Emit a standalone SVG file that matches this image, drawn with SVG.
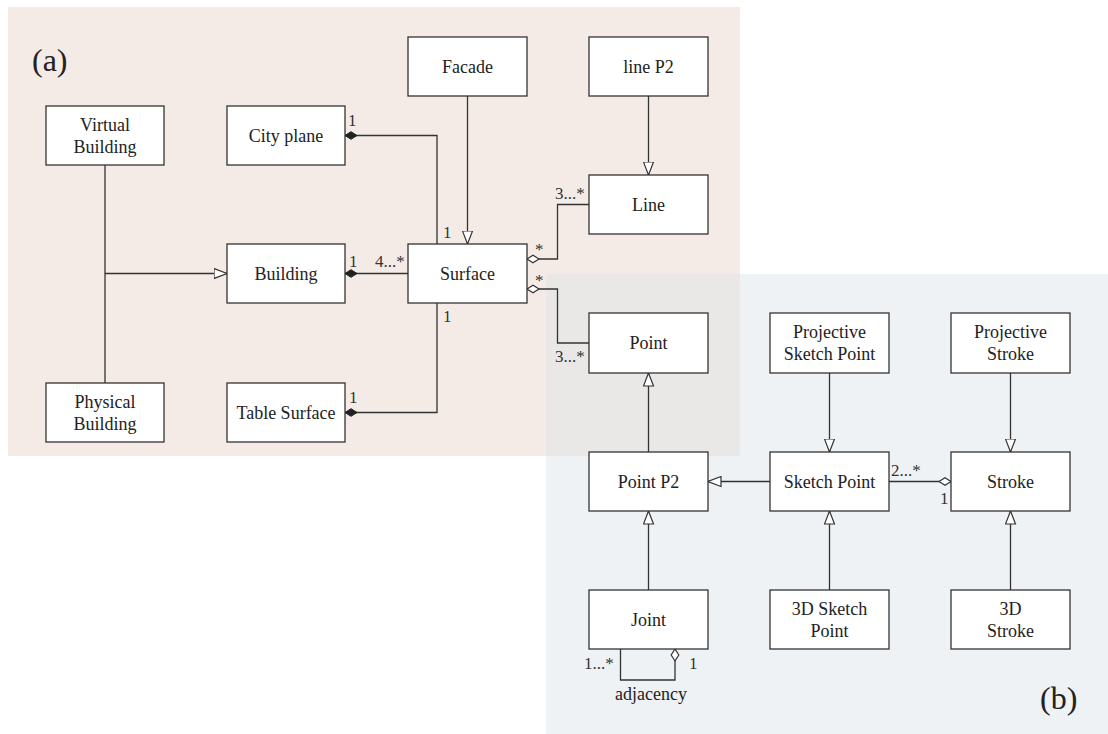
<svg xmlns="http://www.w3.org/2000/svg" width="1108" height="734" viewBox="0 0 1108 734">
<style>
.box{fill:#fff;stroke:#333;stroke-width:1.3}
.t{font-family:"Liberation Serif",serif;font-size:18px;fill:#222;text-anchor:middle}
.m{font-family:"Liberation Serif",serif;font-size:17px;fill:#333}
.big{font-family:"Liberation Serif",serif;font-size:32px;fill:#222}
.c{fill:none;stroke:#333;stroke-width:1.3}
.gen{marker-end:url(#gen)}
.comp{marker-start:url(#comp)}
.agg{marker-start:url(#agg)}
</style>
<defs>
<marker id="gen" viewBox="0 0 14 12" refX="13.5" refY="6" markerWidth="14" markerHeight="12" markerUnits="userSpaceOnUse" orient="auto">
<path d="M0.5,1 L13.5,6 L0.5,11 Z" fill="#fff" stroke="#333" stroke-width="1.2"/>
</marker>
<marker id="comp" viewBox="0 0 14 10" refX="0.5" refY="5" markerWidth="14" markerHeight="10" markerUnits="userSpaceOnUse" orient="auto">
<path d="M0.5,5 L6.5,1.2 L12.5,5 L6.5,8.8 Z" fill="#222" stroke="#222" stroke-width="1"/>
</marker>
<marker id="agg" viewBox="0 0 14 10" refX="0.5" refY="5" markerWidth="14" markerHeight="10" markerUnits="userSpaceOnUse" orient="auto">
<path d="M0.5,5 L6.5,1.2 L12.5,5 L6.5,8.8 Z" fill="#fff" stroke="#333" stroke-width="1.2"/>
</marker>
</defs>

<g id="backgrounds">
<rect x="8" y="7" width="732" height="449" fill="#f5ebe6"/>
<rect x="546" y="274" width="562" height="460" fill="#eef2f5"/>
<rect x="546" y="274" width="194" height="182" fill="#e9e8e6"/>
</g>

<text class="big" x="32" y="71">(a)</text>
<text class="big" x="1040" y="709">(b)</text>

<g id="connectors">
<path class="c" d="M105,165 V383"/>
<path class="c gen" d="M105,273.5 H227"/>
<path class="c comp" d="M345,135.5 H437 V244"/>
<path class="c comp" d="M345,273.5 H408"/>
<path class="c comp" d="M345,412.5 H437 V303"/>
<path class="c gen" d="M467.5,96 V244"/>
<path class="c gen" d="M648.5,96 V175"/>
<path class="c agg" d="M527,259 H557.5 V204.5 H589"/>
<path class="c agg" d="M527,289 H557.5 V343 H589"/>
<path class="c gen" d="M648.5,452 V373"/>
<path class="c gen" d="M770,481.5 H708"/>
<path class="c gen" d="M829.5,373 V452"/>
<path class="c gen" d="M1010.5,373 V452"/>
<path class="c agg" d="M951,481.5 H889"/>
<path class="c gen" d="M648.5,590 V511"/>
<path class="c gen" d="M829.5,590 V511"/>
<path class="c gen" d="M1010.5,590 V511"/>
<path class="c agg" d="M675,649 V680 H620.5 V649"/>
</g>

<g id="labels">
<text class="m" x="348" y="126">1</text>
<text class="m" x="443" y="238">1</text>
<text class="m" x="349" y="267">1</text>
<text class="m" x="375" y="267">4...*</text>
<text class="m" x="349" y="403">1</text>
<text class="m" x="443" y="322">1</text>
<text class="m" x="535" y="255">*</text>
<text class="m" x="535" y="286">*</text>
<text class="m" x="555" y="199">3...*</text>
<text class="m" x="555" y="362">3...*</text>
<text class="m" x="891" y="476">2...*</text>
<text class="m" x="940" y="504">1</text>
<text class="m" x="584" y="669">1...*</text>
<text class="m" x="689" y="669">1</text>
<text class="t" x="651" y="700">adjacency</text>
</g>

<g id="virtual-building"><rect class="box" x="46" y="106" width="118" height="59"/><text class="t" x="105" y="130.5">Virtual</text><text class="t" x="105" y="152.5">Building</text></g>
<g id="physical-building"><rect class="box" x="46" y="383" width="118" height="59"/><text class="t" x="105" y="407.5">Physical</text><text class="t" x="105" y="429.5">Building</text></g>
<g id="city-plane"><rect class="box" x="227" y="106" width="118" height="59"/><text class="t" x="286" y="141.5">City plane</text></g>
<g id="building"><rect class="box" x="227" y="244" width="118" height="59"/><text class="t" x="286" y="279.5">Building</text></g>
<g id="table-surface"><rect class="box" x="227" y="383" width="118" height="59"/><text class="t" x="286" y="418.5">Table Surface</text></g>
<g id="facade"><rect class="box" x="408" y="37" width="119" height="59"/><text class="t" x="467.5" y="72.5">Facade</text></g>
<g id="surface"><rect class="box" x="408" y="244" width="119" height="59"/><text class="t" x="467.5" y="279.5">Surface</text></g>
<g id="line-p2"><rect class="box" x="589" y="37" width="119" height="59"/><text class="t" x="648.5" y="72.5">line P2</text></g>
<g id="line"><rect class="box" x="589" y="175" width="119" height="59"/><text class="t" x="648.5" y="210.5">Line</text></g>
<g id="point"><rect class="box" x="589" y="313" width="119" height="60"/><text class="t" x="648.5" y="349">Point</text></g>
<g id="point-p2"><rect class="box" x="589" y="452" width="119" height="59"/><text class="t" x="648.5" y="487.5">Point P2</text></g>
<g id="joint"><rect class="box" x="589" y="590" width="119" height="59"/><text class="t" x="648.5" y="625.5">Joint</text></g>
<g id="projective-sketch-point"><rect class="box" x="770" y="313" width="119" height="60"/><text class="t" x="829.5" y="338">Projective</text><text class="t" x="829.5" y="360">Sketch Point</text></g>
<g id="sketch-point"><rect class="box" x="770" y="452" width="119" height="59"/><text class="t" x="829.5" y="487.5">Sketch Point</text></g>
<g id="sketch-point-3d"><rect class="box" x="770" y="590" width="119" height="59"/><text class="t" x="829.5" y="614.5">3D Sketch</text><text class="t" x="829.5" y="636.5">Point</text></g>
<g id="projective-stroke"><rect class="box" x="951" y="313" width="119" height="60"/><text class="t" x="1010.5" y="338">Projective</text><text class="t" x="1010.5" y="360">Stroke</text></g>
<g id="stroke"><rect class="box" x="951" y="452" width="119" height="59"/><text class="t" x="1010.5" y="487.5">Stroke</text></g>
<g id="stroke-3d"><rect class="box" x="951" y="590" width="119" height="59"/><text class="t" x="1010.5" y="614.5">3D</text><text class="t" x="1010.5" y="636.5">Stroke</text></g>
</svg>
